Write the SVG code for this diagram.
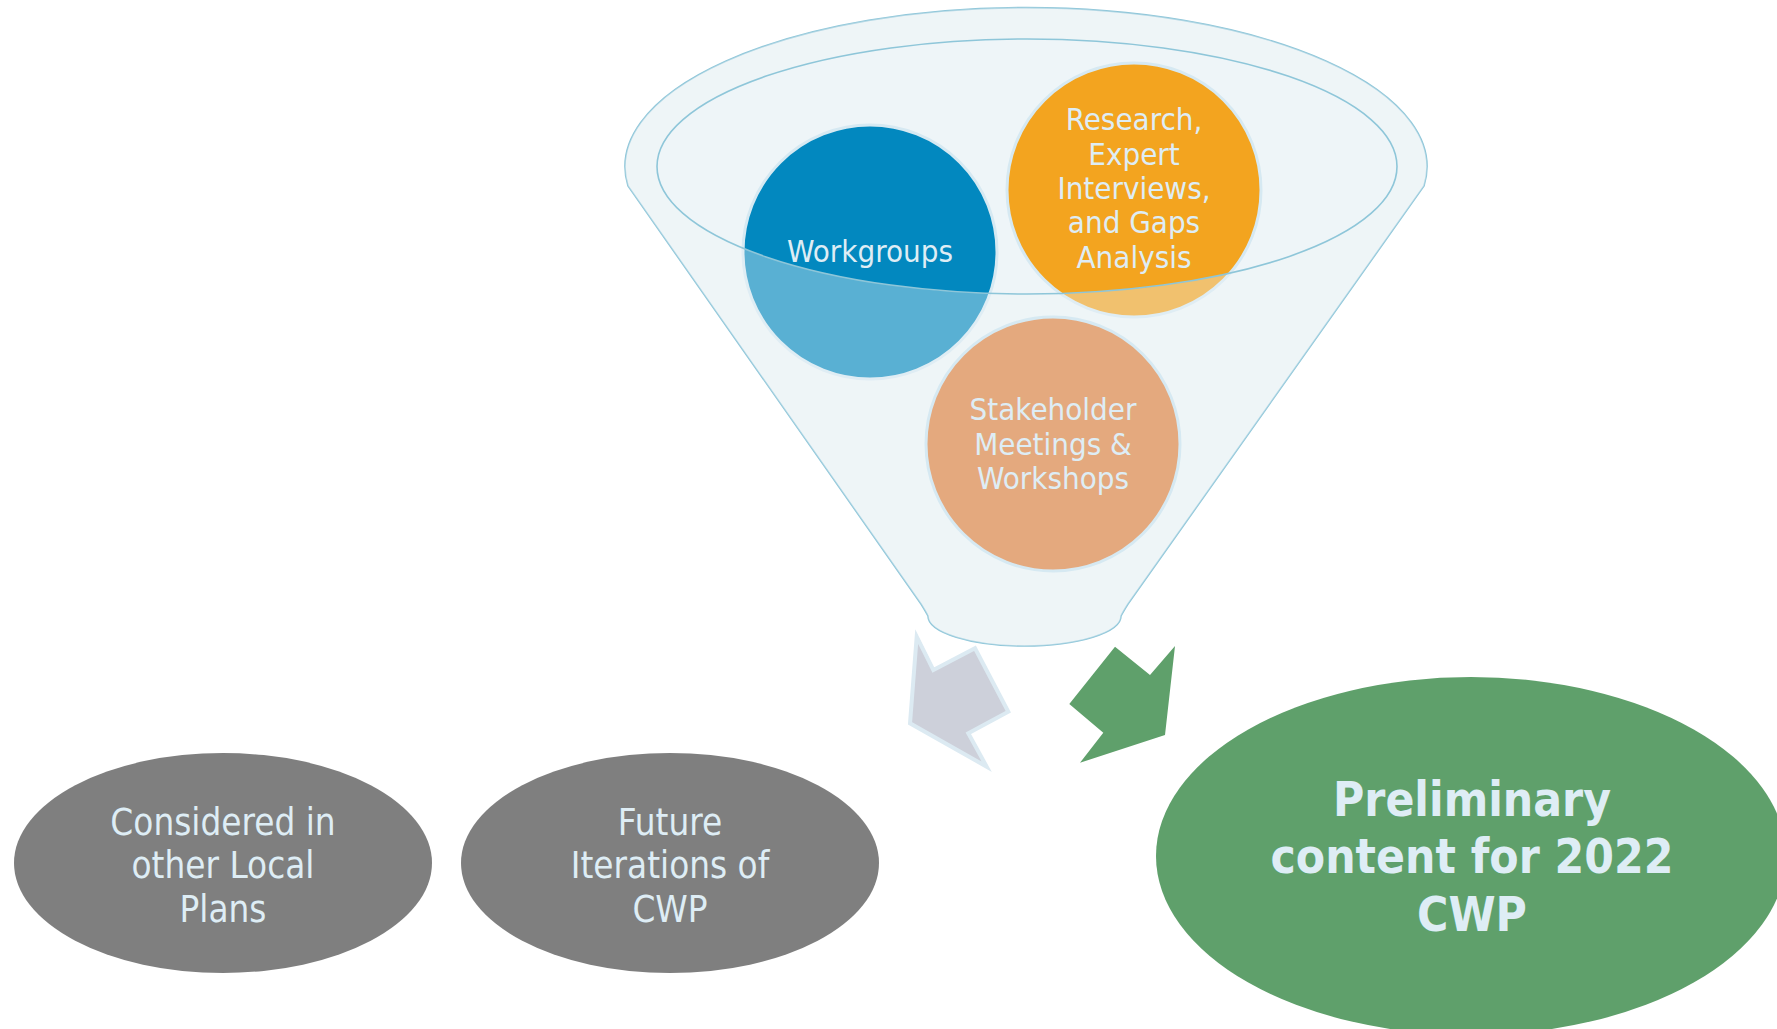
<svg xmlns="http://www.w3.org/2000/svg" width="1777" height="1029" viewBox="0 0 1777 1029">
<defs>
<style>
.t{font-family:'DejaVu Sans Condensed','DejaVu Sans',sans-serif;font-stretch:condensed;fill:#DEEDF5;text-anchor:middle;font-size:31px}
.tb{font-size:36.5px}
.tg{font-size:47.5px;font-weight:bold}
.circ{stroke:#D6E9F2;stroke-width:3}
.gray{fill:#7F7F7F}
.rim{fill:none;stroke:#8EC6D9;stroke-width:1.6}
</style>
</defs>
<rect width="1777" height="1029" fill="#FFFFFF"/>
<g id="funnel">
<path d="M 628,186 A 401 159 0 1 1 1424,186 L 1128,604 Q 1123,612 1121,616 A 96.5 30 0 0 1 928,616 Q 926,612 921,604 Z" fill="#EEF5F8" stroke="#8EC6D9" stroke-width="1.6"/>
</g>
<g id="workgroups">
<circle class="circ" cx="870" cy="252" r="127" fill="#0288BF"/>
</g>
<g id="research">
<circle class="circ" cx="1134" cy="190" r="127" fill="#F3A41F"/>
</g>
<g id="funnel-front">
<path d="M 628,186 A 401 159 0 1 1 1424,186 L 1128,604 Q 1123,612 1121,616 A 96.5 30 0 0 1 928,616 Q 926,612 921,604 Z M 657,166.5 A 370 127.5 0 1 0 1397,166.5 A 370 127.5 0 1 0 657,166.5 Z" fill="#EEF5F8" fill-opacity="0.37" fill-rule="evenodd"/>
<ellipse class="rim" cx="1027" cy="166.5" rx="370" ry="127.5"/>
</g>
<g id="stakeholder">
<circle class="circ" cx="1053" cy="444" r="127" fill="#E4A97E"/>
<text class="t" x="1053" y="420">Stakeholder</text>
<text class="t" x="1053" y="455">Meetings &amp;</text>
<text class="t" x="1053" y="489">Workshops</text>
</g>
<g id="workgroups-label">
<text class="t" x="870" y="262">Workgroups</text>
</g>
<g id="research-label">
<text class="t" x="1134" y="130">Research,</text>
<text class="t" x="1134" y="165">Expert</text>
<text class="t" x="1134" y="199">Interviews,</text>
<text class="t" x="1134" y="233">and Gaps</text>
<text class="t" x="1134" y="268">Analysis</text>
</g>
<g id="connectors">
<polygon points="916.7,636.7 933.3,670 975,648.3 1008.3,711.7 968.3,733.3 986.7,766.7 910,723.3" fill="#CDD0DA" stroke="#DCEAF2" stroke-width="4"/>
<polygon points="1115,646.7 1150,675 1175,646 1165,735 1080,762.7 1103.3,732.7 1069.3,704" fill="#5FA06B"/>
</g>
<g id="considered">
<ellipse class="gray" cx="223" cy="863" rx="209" ry="110"/>
<text class="t tb" x="223" y="835">Considered in</text>
<text class="t tb" x="223" y="878">other Local</text>
<text class="t tb" x="223" y="922">Plans</text>
</g>
<g id="future">
<ellipse class="gray" cx="670" cy="863" rx="209" ry="110"/>
<text class="t tb" x="670" y="835">Future</text>
<text class="t tb" x="670" y="878">Iterations of</text>
<text class="t tb" x="670" y="922">CWP</text>
</g>
<g id="preliminary">
<ellipse cx="1471" cy="856" rx="315" ry="179" fill="#5FA06B"/>
<text class="t tg" x="1472" y="816">Preliminary</text>
<text class="t tg" x="1472" y="873">content for 2022</text>
<text class="t tg" x="1472" y="931">CWP</text>
</g>
</svg>
